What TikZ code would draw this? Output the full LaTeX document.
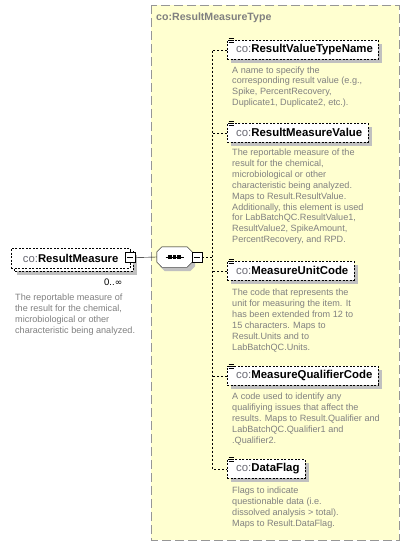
\documentclass[tikz,border=0pt]{standalone}
\usepackage{fontspec}
\setmainfont{Liberation Sans}
\newfontfamily\djv{DejaVu Sans}
\usetikzlibrary{shadows,calc}
\definecolor{yellowbg}{RGB}{255,255,208}
\definecolor{bordergray}{RGB}{150,150,150}
\definecolor{shadowgray}{RGB}{192,192,192}
\definecolor{descgray}{RGB}{128,128,128}
\definecolor{prefixgray}{RGB}{105,105,115}
\definecolor{titlegray}{RGB}{128,128,128}
\newcommand{\elname}[1]{\hspace*{3.5pt}\textcolor{prefixgray}{co:}\textbf{#1}}
\begin{document}
\begin{tikzpicture}[x=1pt,y=-1pt,
  elem/.style={draw=black, dash pattern=on 2pt off 1.5pt, fill=white, anchor=north west,
    minimum height=19pt, inner xsep=5.5pt, inner ysep=0pt, font=\fontsize{11.4}{13}\selectfont,
    drop shadow={shadow xshift=4pt, shadow yshift=-4pt, fill=shadowgray, opacity=1}},
  desc/.style={anchor=north west, align=left, inner sep=0pt, text=descgray,
    font=\fontsize{9.1}{10.9}\selectfont},
  conn/.style={draw=black, dash pattern=on 2pt off 2pt},
  minusbox/.style={draw=black, fill=white, minimum size=10pt, inner sep=0pt},
]
\useasboundingbox (0,0) rectangle (410,546);
\fill[white] (0,0) rectangle (410,546);

% complex type box
\draw[fill=yellowbg, draw=bordergray, line width=1pt, dash pattern=on 9pt off 4pt] (151,5) rectangle (399,540);
\node[anchor=west, text=titlegray, font=\bfseries\fontsize{10.6}{12}\selectfont, inner sep=0pt] (title) at (156,18) {co:ResultMeasureType};

% main element (repeated: stacked boxes)
\fill[shadowgray] (17,255) rectangle (137,275);
\draw[fill=white, dash pattern=on 2pt off 1.5pt] (14,251) rectangle (133,271);
\node[draw=black, dash pattern=on 2pt off 1.5pt, fill=white, anchor=north west, minimum width=119pt,
  minimum height=20pt, inner sep=0pt, font=\fontsize{11.3}{13}\selectfont] (main) at (11,248)
  {\textcolor{prefixgray}{co:}\textbf{ResultMeasure}};
\node[minusbox] (mainm) at (130,257.5) {};
\draw ([xshift=2pt]mainm.west) -- ([xshift=-2pt]mainm.east);
\node[anchor=west, inner sep=0pt, font=\fontsize{9.5}{11}\selectfont] (occ) at (104,282) {0..{\djv\fontsize{9}{10}\selectfont ∞}};
\node[desc] (d0) at (15,293.8) {The reportable measure of\\the result for the chemical,\\microbiological or other\\characteristic being analyzed.};

% sequence compositor (octagon)
\node[minimum width=35pt, minimum height=20pt, inner sep=0pt] (seq) at (174.5,257) {};
\fill[shadowgray] ($(seq.north west)+(8,4)$) -- ($(seq.north east)+(-2,4)$) -- ($(seq.north east)+(3,9)$)
  -- ($(seq.south east)+(3,-1)$) -- ($(seq.south east)+(-2,4)$) -- ($(seq.south west)+(8,4)$)
  -- ($(seq.south west)+(3,-1)$) -- ($(seq.north west)+(3,9)$) -- cycle;
\draw[fill=white] ($(seq.north west)+(5,0)$) -- ($(seq.north east)+(-5,0)$) -- ($(seq.north east)+(0,5)$)
  -- ($(seq.south east)+(0,-5)$) -- ($(seq.south east)+(-5,0)$) -- ($(seq.south west)+(5,0)$)
  -- ($(seq.south west)+(0,-5)$) -- ($(seq.north west)+(0,5)$) -- cycle;
\draw ($(seq.center)+(-9,0)$) -- ($(seq.center)+(9,0)$);
\foreach \dx in {-4.5,0,4.5} \fill ($(seq.center)+(\dx,0)$) +(-1.6,-1.6) rectangle +(1.6,1.6);
\node[minusbox] (seqm) at (197,257.5) {};
\draw ([xshift=2pt]seqm.west) -- ([xshift=-2pt]seqm.east);
\draw (mainm.east) -- (seq.west);

% child elements
\node[elem] (rvtn) at (227,40) {\elname{ResultValueTypeName}};
\node[elem] (rmv) at (227,123) {\elname{ResultMeasureValue}};
\node[elem] (muc) at (227,261) {\elname{MeasureUnitCode}};
\node[elem] (mqc) at (227,366) {\elname{MeasureQualifierCode}};
\node[elem] (df) at (227,459) {\elname{DataFlag}};

\foreach \n in {rvtn,rmv,muc,mqc,df} {
  \foreach \dy in {-1.5,0.5,2.5}
    \draw[line width=0.8pt] ($(\n.north west)+(1.5,\dy)$) -- ++(5,0);
}

% connectors
\coordinate (bus) at (212,0);
\draw[conn] (rvtn.west) -- (rvtn.west -| bus) -- (df.west -| bus) -- (df.west);
\draw[conn] (rmv.west) -- (rmv.west -| bus);
\draw[conn] (muc.west) -- (muc.west -| bus);
\draw[conn] (mqc.west) -- (mqc.west -| bus);
\draw[conn] (seqm.east) -- (seqm.east -| bus);

% descriptions
\node[desc] (d1) at (232,66.3) {A name to specify the\\corresponding result value (e.g.,\\Spike, PercentRecovery,\\Duplicate1, Duplicate2, etc.).};
\node[desc] (d2) at (232,148.8) {The reportable measure of the\\result for the chemical,\\microbiological or other\\characteristic being analyzed.\\Maps to Result.ResultValue.\\Additionally, this element is used\\for LabBatchQC.ResultValue1,\\ResultValue2, SpikeAmount,\\PercentRecovery, and RPD.};
\node[desc] (d3) at (232,288.8) {The code that represents the\\unit for measuring the item. It\\has been extended from 12 to\\15 characters. Maps to\\Result.Units and to\\LabBatchQC.Units.};
\node[desc] (d4) at (232,392.8) {A code used to identify any\\qualifiying issues that affect the\\results. Maps to Result.Qualifier and\\LabBatchQC.Qualifier1 and\\.Qualifier2.};
\node[desc] (d5) at (232,486.8) {Flags to indicate\\questionable data (i.e.\\dissolved analysis > total).\\Maps to Result.DataFlag.};
\end{tikzpicture}
\end{document}
